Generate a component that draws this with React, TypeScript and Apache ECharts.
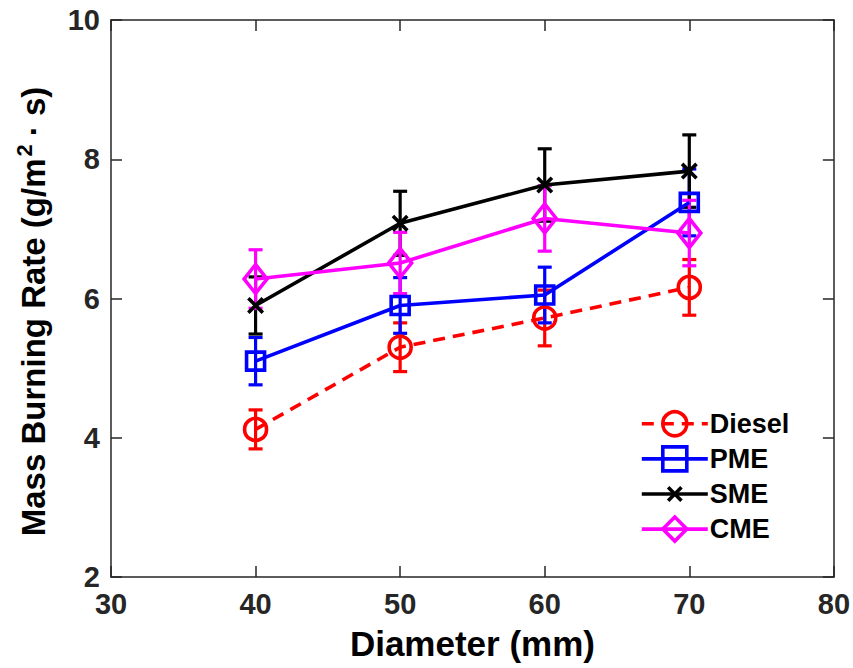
import React, { useEffect, useRef } from "react";
import * as echarts from "echarts";

const diameters = [40, 50, 60, 70];
const dieselRate = [4.12, 5.3, 5.72, 6.16];
const dieselErr = [0.28, 0.35, 0.4, 0.4];
const pmeRate = [5.1, 5.9, 6.05, 7.38];
const pmeErr = [0.34, 0.4, 0.4, 0.48];
const smeRate = [5.9, 7.08, 7.63, 7.83];
const smeErr = [0.41, 0.46, 0.52, 0.52];
const cmeRate = [6.28, 6.51, 7.15, 6.94];
const cmeErr = [0.42, 0.44, 0.47, 0.47];

const xTicks = { min: 30, max: 80, interval: 10 };
const yTicks = { min: 2, max: 10, interval: 2 };

const FONT = "'Liberation Sans', Arial, Helvetica, sans-serif";
const AXIS_COLOR = "#262626";

// X-shaped marker with invisible padding points so it stays small in the legend
const CROSS = "path://M-4,-4L-4,-4M14,14L14,14M0,0L10,10M10,0L0,10";

type SeriesDef = {
  name: string;
  values: number[];
  errs: number[];
  color: string;
  symbol: string;
  symbolSize: number | number[];
  dashed?: boolean;
};

const seriesDefs: SeriesDef[] = [
  { name: "Diesel", values: dieselRate, errs: dieselErr, color: "#FF0000", symbol: "circle", symbolSize: 22, dashed: true },
  { name: "PME", values: pmeRate, errs: pmeErr, color: "#0000FF", symbol: "rect", symbolSize: 18 },
  { name: "SME", values: smeRate, errs: smeErr, color: "#000000", symbol: CROSS, symbolSize: 26 },
  { name: "CME", values: cmeRate, errs: cmeErr, color: "#FF00FF", symbol: "diamond", symbolSize: [23, 29] },
];

export default function App() {
  const ref = useRef<HTMLDivElement>(null);
  useEffect(() => {
    if (!ref.current) return;
    const chart = echarts.init(ref.current, undefined, { renderer: "svg" });
    const series: any[] = [];
    seriesDefs.forEach((d) => {
      series.push({
        name: d.name + " error",
        type: "custom",
        xAxisIndex: 0,
        yAxisIndex: 0,
        data: diameters.map((x, i) => [x, d.values[i] - d.errs[i], d.values[i] + d.errs[i]]),
        renderItem: (params: any, api: any) => {
          const lo = api.coord([api.value(0), api.value(1)]);
          const hi = api.coord([api.value(0), api.value(2)]);
          const cap = 7;
          const style = { stroke: d.color, lineWidth: 3.2, fill: "none" };
          return {
            type: "group",
            children: [
              { type: "line", shape: { x1: lo[0], y1: lo[1], x2: hi[0], y2: hi[1] }, style },
              { type: "line", shape: { x1: lo[0] - cap, y1: lo[1], x2: lo[0] + cap, y2: lo[1] }, style },
              { type: "line", shape: { x1: hi[0] - cap, y1: hi[1], x2: hi[0] + cap, y2: hi[1] }, style },
            ],
          };
        },
        silent: true,
      });
      series.push({
        name: d.name,
        type: "line",
        xAxisIndex: 0,
        yAxisIndex: 0,
        data: diameters.map((x, i) => [x, d.values[i]]),
        symbol: d.symbol,
        symbolSize: d.symbolSize,
        showAllSymbol: true,
        lineStyle: { color: d.color, width: 3.6, type: d.dashed ? [12, 8] : "solid" },
        itemStyle: { color: "rgba(255,255,255,0)", borderColor: d.color, borderWidth: 3.6 },
        emphasis: { disabled: true },
      });
    });

    const axisCommon = {
      axisLine: { show: true, onZero: false, lineStyle: { color: AXIS_COLOR, width: 1.5 } },
      axisTick: { show: true, inside: true, length: 11, lineStyle: { color: AXIS_COLOR, width: 1.5 } },
      splitLine: { show: false },
    };

    chart.setOption({
      animation: false,
      backgroundColor: "#ffffff",
      grid: { left: 111, right: 18, top: 20, bottom: 91, containLabel: false },
      xAxis: [
        {
          type: "value",
          ...xTicks,
          position: "bottom",
          ...axisCommon,
          axisLabel: { color: AXIS_COLOR, fontSize: 29, fontWeight: "bold", fontFamily: FONT, margin: 12 },
          name: "Diameter (mm)",
          nameLocation: "middle",
          nameGap: 49,
          nameTextStyle: { color: "#000", fontSize: 35, fontWeight: "bold", fontFamily: FONT },
        },
        {
          type: "value",
          ...xTicks,
          position: "top",
          ...axisCommon,
          axisLabel: { show: false },
        },
      ],
      yAxis: [
        {
          type: "value",
          ...yTicks,
          position: "left",
          ...axisCommon,
          axisLabel: { color: AXIS_COLOR, fontSize: 29, fontWeight: "bold", fontFamily: FONT, margin: 11 },
          name: "{n|Mass Burning Rate (g/m}{s|2}{n|· s)}",
          nameLocation: "middle",
          nameRotate: 90,
          nameGap: 58,
          nameTextStyle: {
            color: "#000",
            fontSize: 33,
            fontWeight: "bold",
            fontFamily: FONT,
            padding: [0, 26, 0, 0],
            rich: {
              n: { fontSize: 33, fontWeight: "bold", fontFamily: FONT, color: "#000", lineHeight: 40, verticalAlign: "middle" },
              s: { fontSize: 22, fontWeight: "bold", fontFamily: FONT, color: "#000", lineHeight: 22, verticalAlign: "top", padding: [0, 8, 0, 2] },
            },
          },
        },
        {
          type: "value",
          ...yTicks,
          position: "right",
          ...axisCommon,
          axisLabel: { show: false },
        },
      ],
      legend: {
        data: seriesDefs.map((d) => d.name),
        orient: "vertical",
        left: 635,
        top: 405,
        itemWidth: 66,
        itemHeight: 30,
        itemGap: 7.5,
        lineStyle: { width: 3.6 },
        itemStyle: { borderWidth: 3.6 },
        textStyle: { color: "#000", fontSize: 27, fontWeight: "bold", fontFamily: FONT, padding: [0, 0, 0, -3] },
        selectedMode: false,
      },
      series,
    });
    return () => chart.dispose();
  }, []);
  return <div ref={ref} style={{ position: "fixed", left: 0, top: 0, width: 853, height: 668 }} />;
}
